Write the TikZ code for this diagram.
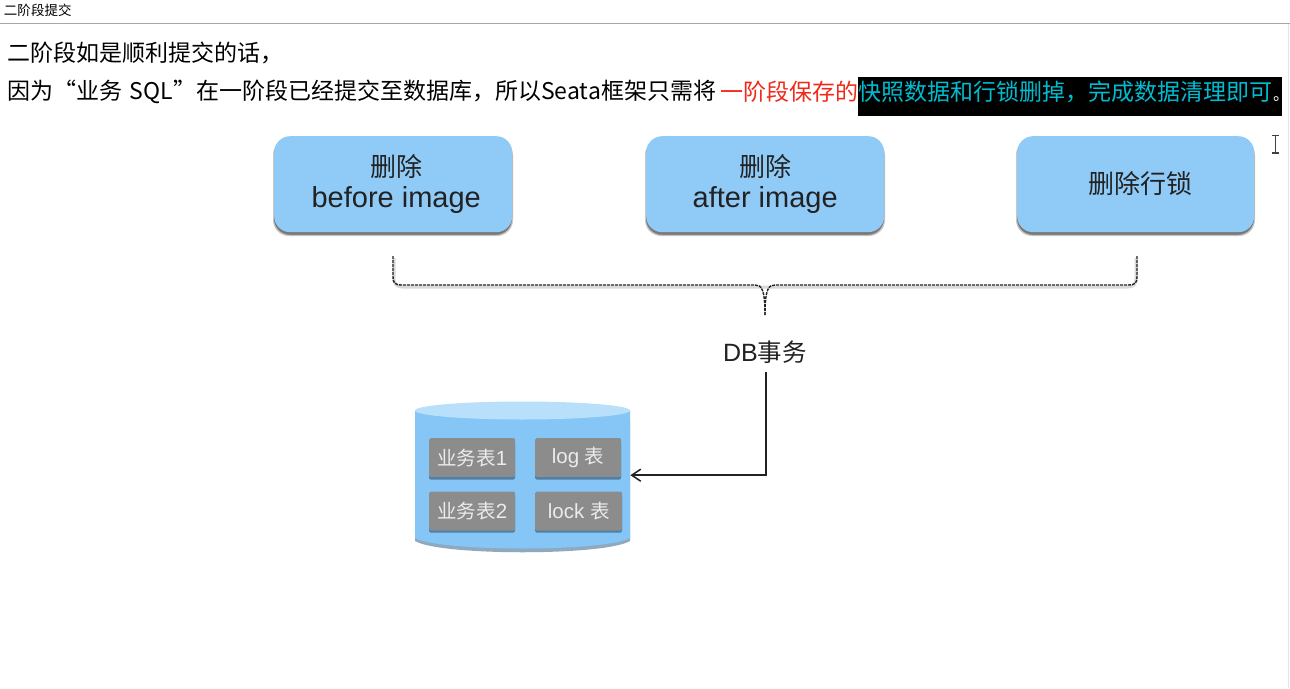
\documentclass[tikz,border=0pt]{standalone}
\usepackage{fontspec}
\usetikzlibrary{arrows.meta,positioning}
\setmainfont{Liberation Sans}
\newfontfamily\cjk{Noto Sans CJK SC}
\definecolor{boxblue}{HTML}{90CBF8}
\definecolor{cyltop}{HTML}{B9E0FA}
\definecolor{cylbody}{HTML}{85C6F6}
\definecolor{cylshade}{HTML}{8FA9BE}
\definecolor{tblgray}{HTML}{8C8C8C}
\definecolor{tbldark}{HTML}{4F7FA6}
\definecolor{cyantext}{HTML}{00BCD0}
\definecolor{redtext}{HTML}{F02A1A}
\definecolor{ink}{HTML}{222222}
\tikzset{
  txt/.style={inner sep=0pt,outer sep=0pt,anchor=west,text=black,font=\cjk\fontsize{23}{27}\selectfont},
  opbox/.style={draw=none,fill=boxblue,rounded corners=16pt,minimum width=238pt,minimum height=96pt,inner sep=0pt,align=center,
     font=\fontsize{29}{33}\selectfont,text=ink},
  opshadow/.style={fill=black,fill opacity=0.22,rounded corners=16pt,draw=none},
  tbl/.style={fill=tblgray,draw=none,rounded corners=1.5pt,minimum width=86pt,minimum height=39pt,inner sep=0pt,text=white!92!black,font=\fontsize{20.5}{24}\selectfont},
  tblshadow/.style={fill=tbldark,draw=none,rounded corners=1.5pt},
  bracket/.style={draw=ink,line width=1.4pt,dash pattern=on 3pt off 1pt},
  bracketglow/.style={draw=black,draw opacity=0.15,line width=3pt},
  link/.style={draw=ink,line width=1.5pt},
}
\newcommand{\zh}[1]{{\cjk\fontsize{26}{30}\selectfont #1}}
\newcommand{\zt}[1]{{\cjk\fontsize{19.5}{24}\selectfont #1}}
\begin{document}
\begin{tikzpicture}[x=1pt,y=-1pt]
\useasboundingbox (0,0) rectangle (1290,688);
\fill[white] (0,0) rectangle (1290,688);
% window chrome
\node[txt,font=\cjk\fontsize{13.5}{16}\selectfont] (title) at (4,10) {二阶段提交};
\draw[draw=black!35,line width=1pt] (0,23.5) -- (1290,23.5);
\draw[draw=black!10,line width=1pt] (1288.5,24) -- (1288.5,688);
% text
\node[txt] (l1) at (7,53) {二阶段如是顺利提交的话，};
\node[fill=black,minimum width=424pt,minimum height=39pt,inner sep=0pt,anchor=north west] (hl) at (858,77) {};
\node[txt] (l2a) at (7,92) {因为“业务\hspace{8pt}SQL”在一阶段已经提交至数据库，所以Seata框架只需将};
\node[txt,text=redtext] (l2b) at (720,92) {一阶段保存的};
\node[txt,text=cyantext] (l2c) at (858,92) {快照数据和行锁删掉，完成数据清理即可};
\node[txt,text=white,font=\cjk\fontsize{16}{20}\selectfont,anchor=base west] (l2d) at (1273,100) {。};
% cursor
\draw[draw=black!75,line width=1.2pt] (1272,135.5) -- (1279,135.5) (1275.5,135.5) -- (1275.5,153) (1272,153) -- (1279,153);
% op boxes
\foreach \xa/\xb in {274/512,646/884,1017/1254}{
  \fill[opshadow] (\xa-1,139) rectangle (\xb+1,236);
  \fill[opshadow] (\xa,139) rectangle (\xb,235);
  \fill[opshadow] (\xa,139) rectangle (\xb,234.5);
}
\node[opbox,anchor=north west] (b1) at (274,136) {\hspace*{6pt}\zh{删除}\\[-2pt]\hspace*{6pt}before image};
\node[opbox,anchor=north west] (b2) at (646,136) {\zh{删除}\\[-2pt]after image};
\node[opbox,anchor=north west,minimum width=237pt] (b3) at (1017,136) {\hspace*{10pt}\raisebox{4pt}{\zh{删除行锁}}};
% bracket
\coordinate (bl) at (393,256);
\coordinate (br) at (1137,256);
\coordinate (bm) at (765,315);
\draw[bracketglow] (394,258) -- (394,278) .. controls (394,284) and (396,287) .. (403,287) -- (1127,287) .. controls (1134,287) and (1136,284) .. (1136,278) -- (1136,258);
\draw[bracket] (bl) -- (393,277) .. controls (393,283) and (395,285) .. (402,285) -- (755,285) .. controls (761,285) and (765,288) .. (bm);
\draw[bracket] (br) -- (1137,277) .. controls (1137,283) and (1135,285) .. (1128,285) -- (775,285) .. controls (769,285) and (765,288) .. (bm);
% DB
\node[inner sep=0pt,text=ink,font=\fontsize{25}{30}\selectfont] (tx) at (765,352) {DB{\cjk\fontsize{24.5}{30}\selectfont 事务}};
% cylinder
\path[fill=cylshade] (415,420) -- (415,541) .. controls (440,556) and (605,556) .. (630,541) -- (630,420) -- cycle;
\path[fill=cylbody] (415,410) -- (415,538) .. controls (440,552) and (605,552) .. (630,538) -- (630,410) -- cycle;
\fill[cyltop] (522.5,410.5) ellipse [x radius=107.5,y radius=9];
\node[minimum width=215pt,minimum height=146pt,inner sep=0pt,anchor=north west] (cyl) at (415,402) {};
% tables
\fill[tblshadow] (429,442) rectangle (515,479.5);
\fill[tblshadow] (535,442) rectangle (621,479.5);
\fill[tblshadow] (429,495) rectangle (515,532.5);
\fill[tblshadow] (535,495) rectangle (622,532.5);
\node[tbl,anchor=north west] (t1) at (429,438) {\zt{业务表}1};
\node[tbl,anchor=north west] (t2) at (535,438) {log \zt{表}};
\node[tbl,anchor=north west] (t3) at (429,491.5) {\zt{业务表}2};
\node[tbl,anchor=north west,minimum width=87pt] (t4) at (535,491.5) {lock \zt{表}};
\draw[link,-{Straight Barb[length=9pt,width=12pt]}] ([xshift=1pt,yshift=-8pt]tx.south) |- (cyl.east);
\end{tikzpicture}
\end{document}
